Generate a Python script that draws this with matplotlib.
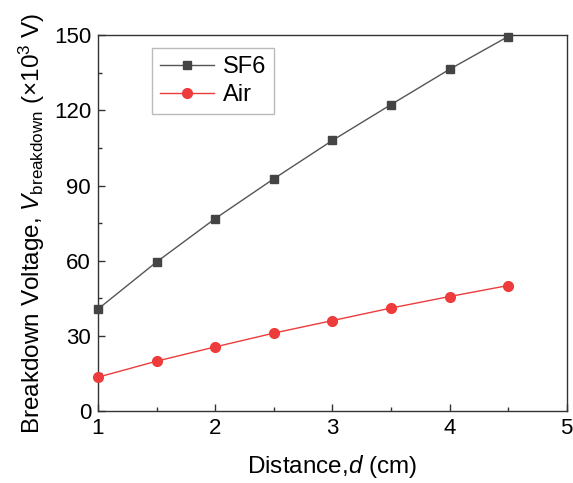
import matplotlib
matplotlib.use("Agg")
import matplotlib.pyplot as plt
from matplotlib.ticker import MultipleLocator

plt.rcParams['font.family'] = ['Liberation Sans', 'DejaVu Sans']
plt.rcParams['mathtext.fontset'] = 'custom'
plt.rcParams['mathtext.rm'] = 'Liberation Sans'
plt.rcParams['mathtext.it'] = 'Liberation Sans:italic'

distance = [1.0, 1.5, 2.0, 2.5, 3.0, 3.5, 4.0, 4.5]
sf6_kv = [40.7, 59.5, 76.8, 92.7, 108.0, 122.3, 136.4, 149.5]
air_kv = [13.5, 19.9, 25.6, 31.1, 36.1, 41.1, 45.7, 50.1]

x_ticks = [1, 2, 3, 4, 5]
y_ticks = [0, 30, 60, 90, 120, 150]

fig = plt.figure(figsize=(5.73, 4.83), dpi=100)
ax = fig.add_axes([0.171, 0.149, 0.818, 0.778])

ax.plot(distance, sf6_kv, color='#555555', lw=1.0, marker='s', ms=6,
        mfc='#444444', mec='#444444', label='SF6', clip_on=False, zorder=3)
ax.plot(distance, air_kv, color='#ee3b3b', lw=1.0, marker='o', ms=7,
        mfc='#ee3b3b', mec='#ee3b3b', label='Air', clip_on=False, zorder=3)

ax.set_xlim(1, 5)
ax.set_ylim(0, 150)
ax.set_xticks(x_ticks)
ax.set_yticks(y_ticks)
ax.xaxis.set_minor_locator(MultipleLocator(0.5))
ax.yaxis.set_minor_locator(MultipleLocator(15))
ax.tick_params(which='both', direction='in', top=False, right=False,
               labelsize=16, width=1.0, color='#333333')
ax.tick_params(which='major', length=5, pad=5)
ax.tick_params(which='minor', length=3)
for s in ax.spines.values():
    s.set_linewidth(1.0)
    s.set_color('#333333')

ax.set_xlabel('Distance,$\\mathit{d}$ (cm)', fontsize=17.5, labelpad=10)
ax.set_ylabel('Breakdown Voltage, $\\mathit{V}_{\\mathrm{breakdown}}$ ($\\times$10$^{3}$ V)',
              fontsize=17.5, labelpad=5)

leg = ax.legend(loc='upper left', bbox_to_anchor=(0.115, 0.966), fontsize=17,
                frameon=True, fancybox=False, edgecolor='#aaaaaa',
                handlelength=2.3, borderpad=0.35, labelspacing=0.25,
                handletextpad=0.35, borderaxespad=0)
leg.get_frame().set_linewidth(1.0)

fig.savefig('out.png', dpi=100)
